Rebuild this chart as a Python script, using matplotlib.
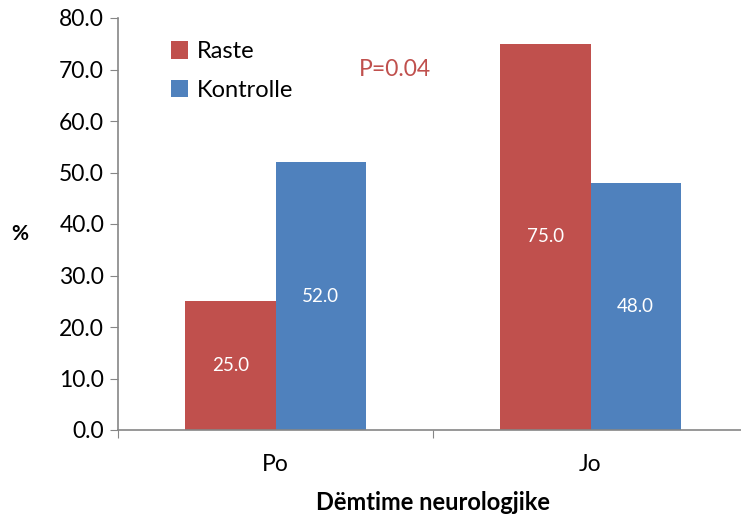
import matplotlib.pyplot as plt
import numpy as np

plt.rcParams['font.family'] = ['Lato', 'DejaVu Sans']

# te dhenat
kategorite = ['Po', 'Jo']
raste = [25.0, 75.0]
kontrolle = [52.0, 48.0]

kuqe = '#C0504D'
blu = '#4F81BD'
gri = '#868686'

fig = plt.figure(figsize=(7.41, 5.19), dpi=100)
ax = fig.add_axes([118 / 741, 89 / 519, 630 / 741, 412 / 519])

x = np.arange(len(kategorite))
w = 0.286
b1 = ax.bar(x - w / 2, raste, w, color=kuqe, label='Raste')
b2 = ax.bar(x + w / 2, kontrolle, w, color=blu, label='Kontrolle')

for bars in (b1, b2):
    for b in bars:
        h = b.get_height()
        ax.text(b.get_x() + b.get_width() / 2, h / 2, f'{h:.1f}',
                ha='center', va='center', color='white', fontsize=13.5)

ax.set_xlim(-0.5, 1.5)
ax.set_ylim(0, 80)
ax.set_yticks(np.arange(0, 81, 10))
ax.set_yticklabels([f'{v:.1f}' for v in np.arange(0, 81, 10)], fontsize=16.5)

# kufijte e kategorive si vija, etiketat ne qender
ax.set_xticks([-0.5, 0.5, 1.5])
ax.set_xticklabels([])
ax.set_xticks(x, minor=True)
ax.set_xticklabels(kategorite, minor=True, fontsize=16.5)
ax.tick_params(axis='x', which='minor', length=0, pad=17)
ax.tick_params(axis='x', which='major', length=6, color=gri, direction='out')
ax.tick_params(axis='y', length=6, color=gri, direction='out', pad=4)

for s in ['top', 'right']:
    ax.spines[s].set_visible(False)
for s in ['left', 'bottom']:
    ax.spines[s].set_color(gri)
    ax.spines[s].set_linewidth(1.2)

ax.set_ylabel('%', fontsize=15, fontweight='bold', rotation=0, labelpad=28, va='top')
ax.set_xlabel('Dëmtime neurologjike', fontsize=17, fontweight='bold', labelpad=12)

ax.legend(loc='upper left', bbox_to_anchor=(0.05, 0.995), frameon=False, fontsize=17,
          handlelength=0.75, handleheight=0.75, handletextpad=0.35, labelspacing=0.75)

ax.text(0.38, 70, 'P=0.04', color=kuqe, fontsize=16.5, ha='center', va='center', zorder=5)

fig.savefig('out.png', dpi=100)
